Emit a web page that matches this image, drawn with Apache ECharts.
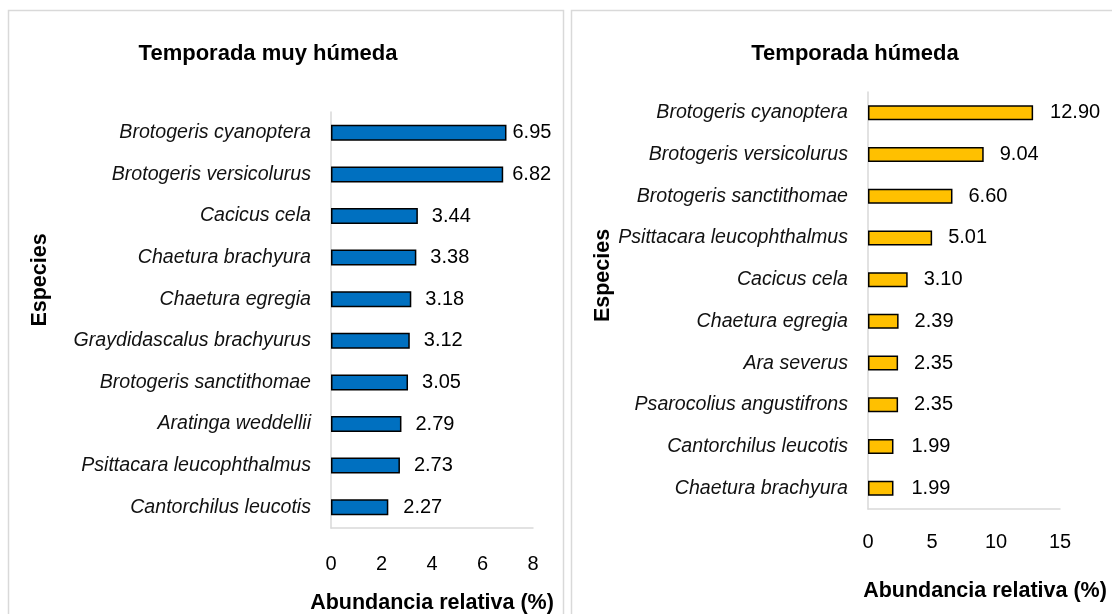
<!DOCTYPE html>
<html>
<head>
<meta charset="utf-8">
<script src="https://cdn.jsdelivr.net/npm/echarts@6/dist/echarts.min.js"></script>
<style>
  html, body { margin: 0; padding: 0; background: #fff; }
  #chart { width: 1112px; height: 614px; }
</style>
</head>
<body>
<div id="chart"></div>
<script>
// Temporada muy húmeda
const speciesMuyHumeda = [
  'Brotogeris cyanoptera',
  'Brotogeris versicolurus',
  'Cacicus cela',
  'Chaetura brachyura',
  'Chaetura egregia',
  'Graydidascalus brachyurus',
  'Brotogeris sanctithomae',
  'Aratinga weddellii',
  'Psittacara leucophthalmus',
  'Cantorchilus leucotis'
]
const valuesMuyHumeda = [6.95, 6.82, 3.44, 3.38, 3.18, 3.12, 3.05, 2.79, 2.73, 2.27]

// Temporada húmeda
const speciesHumeda = [
  'Brotogeris cyanoptera',
  'Brotogeris versicolurus',
  'Brotogeris sanctithomae',
  'Psittacara leucophthalmus',
  'Cacicus cela',
  'Chaetura egregia',
  'Ara severus',
  'Psarocolius angustifrons',
  'Cantorchilus leucotis',
  'Chaetura brachyura'
]
const valuesHumeda = [12.90, 9.04, 6.60, 5.01, 3.10, 2.39, 2.35, 2.35, 1.99, 1.99]

const FONT = '"Liberation Sans", Arial, sans-serif'
const axisGrey = '#d9d9d9'

function xAxisFor (gridIndex, max, interval, margin, gap, pad) {
  return {
    gridIndex: gridIndex,
    type: 'value',
    min: 0,
    max: max,
    interval: interval,
    name: 'Abundancia relativa (%)',
    nameLocation: 'middle',
    nameGap: gap,
    nameTextStyle: { fontFamily: FONT, fontWeight: 'bold', fontSize: 21.5, color: '#000', padding: pad },
    axisLine: { show: true, lineStyle: { color: axisGrey, width: 1.5 } },
    axisTick: { show: false },
    splitLine: { show: false },
    axisLabel: { fontFamily: FONT, fontSize: 20, color: '#000', margin: margin }
  }
}

function yAxisFor (gridIndex, cats, gap, pad) {
  return {
    gridIndex: gridIndex,
    type: 'category',
    data: cats,
    inverse: true,
    name: 'Especies',
    nameLocation: 'middle',
    nameGap: gap,
    nameTextStyle: { fontFamily: FONT, fontWeight: 'bold', fontSize: 21.5, color: '#000', padding: pad },
    axisLine: { show: true, lineStyle: { color: axisGrey, width: 1.5 } },
    axisTick: { show: false },
    axisLabel: { fontFamily: FONT, fontStyle: 'italic', fontSize: 19.6, color: '#111', margin: 20 }
  }
}

// label gap next to each bar; Excel squeezed the two longest ones a bit
function barSeries (idx, values, color, width, gaps) {
  return {
    type: 'bar',
    xAxisIndex: idx,
    yAxisIndex: idx,
    data: values.map((v, i) => ({ value: v, label: { distance: gaps[i] } })),
    barWidth: width,
    itemStyle: { color: color, borderColor: '#000', borderWidth: 1.5 },
    label: {
      show: true,
      position: 'right',
      fontFamily: FONT,
      fontSize: 20,
      color: '#000',
      formatter: p => p.value.toFixed(2)
    },
    silent: true
  }
}

const chart = echarts.init(document.getElementById('chart'))
chart.setOption({
  animation: false,
  title: [
    { text: 'Temporada muy húmeda', left: 263, top: 38, textAlign: 'center',
      textStyle: { fontFamily: FONT, fontWeight: 'bold', fontSize: 22, color: '#000' } },
    { text: 'Temporada húmeda', left: 850, top: 38, textAlign: 'center',
      textStyle: { fontFamily: FONT, fontWeight: 'bold', fontSize: 22, color: '#000' } }
  ],
  graphic: [
    { type: 'rect', shape: { x: 8.5, y: 10.5, width: 555, height: 610 }, style: { fill: 'none', stroke: axisGrey, lineWidth: 1.5 }, silent: true },
    { type: 'rect', shape: { x: 571.5, y: 10.5, width: 545, height: 610 }, style: { fill: 'none', stroke: axisGrey, lineWidth: 1.5 }, silent: true }
  ],
  grid: [
    { left: 331, top: 112, width: 202, height: 416, outerBoundsMode: 'none' },
    { left: 868, top: 92, width: 192, height: 417, outerBoundsMode: 'none' }
  ],
  xAxis: [
    xAxisFor(0, 8, 2, 26, 64, [0, 0, 0, 0]),
    xAxisFor(1, 15, 5, 23, 71, [0, 0, 0, 42])
  ],
  yAxis: [
    yAxisFor(0, speciesMuyHumeda, 280, [0, 0, 0, 80]),
    yAxisFor(1, speciesHumeda, 245, [0, 0, 0, 50])
  ],
  series: [
    barSeries(0, valuesMuyHumeda, '#0070C0', 16, [6, 9, 14, 14, 14, 14, 14, 14, 14, 15]),
    barSeries(1, valuesHumeda, '#FFC000', 15, [17, 16, 16, 16, 16, 16, 16, 16, 18, 18])
  ]
})
</script>
</body>
</html>
